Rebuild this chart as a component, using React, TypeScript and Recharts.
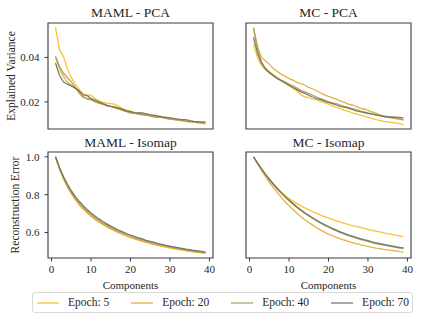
import React from 'react';
import { LineChart, Line, XAxis, YAxis, ReferenceArea } from 'recharts';

const FONT = '"Liberation Serif", "DejaVu Serif", "Noto Serif", serif';
const TEXT = '#262626';
const SPINE = '#3a3a3a';

const components = [1, 2, 3, 4, 5, 6, 7, 8, 9, 10, 11, 12, 13, 14, 15, 16, 17, 18, 19, 20, 21, 22, 23, 24, 25, 26, 27, 28, 29, 30, 31, 32, 33, 34, 35, 36, 37, 38, 39];
const epochs = ['Epoch: 5', 'Epoch: 20', 'Epoch: 40', 'Epoch: 70'];
const epochColors = ['#fbbc1c', '#e3a72e', '#a99a5e', '#68705f'];
const xTicks = [0, 10, 20, 30, 40];
const pcaTicks = [0.02, 0.04];
const isoTicks = [0.6, 0.8, 1.0];

const mamlPcaE5 = [0.0535, 0.0435, 0.0405, 0.035, 0.031, 0.028, 0.0255, 0.0235, 0.023, 0.023, 0.0215, 0.0205, 0.0198, 0.0194, 0.0192, 0.019, 0.018, 0.017, 0.0163, 0.0158, 0.0152, 0.015, 0.0147, 0.0143, 0.014, 0.0138, 0.0136, 0.0132, 0.0129, 0.0126, 0.0122, 0.012, 0.0118, 0.0116, 0.0112, 0.011, 0.0107, 0.0104, 0.01];
const mamlPcaE20 = [0.04, 0.035, 0.0315, 0.029, 0.0275, 0.0262, 0.0245, 0.0228, 0.0212, 0.021, 0.02, 0.0193, 0.019, 0.0183, 0.018, 0.0172, 0.0168, 0.0162, 0.0158, 0.0152, 0.015, 0.0146, 0.0142, 0.014, 0.014, 0.0136, 0.0132, 0.013, 0.0126, 0.0122, 0.012, 0.012, 0.0116, 0.0112, 0.011, 0.0109, 0.0106, 0.0105, 0.0103];
const mamlPcaE40 = [0.0405, 0.036, 0.033, 0.031, 0.029, 0.0265, 0.024, 0.022, 0.0215, 0.021, 0.0202, 0.0196, 0.019, 0.0182, 0.018, 0.0175, 0.017, 0.0162, 0.0156, 0.015, 0.0149, 0.0145, 0.0142, 0.014, 0.0136, 0.0132, 0.013, 0.013, 0.0126, 0.0122, 0.012, 0.0118, 0.0116, 0.0112, 0.0111, 0.011, 0.0109, 0.0107, 0.0106];
const mamlPcaE70 = [0.0375, 0.032, 0.029, 0.028, 0.0272, 0.0262, 0.025, 0.0232, 0.0228, 0.0215, 0.0208, 0.02, 0.0192, 0.0185, 0.018, 0.0178, 0.0172, 0.0166, 0.016, 0.0156, 0.0152, 0.015, 0.015, 0.0146, 0.0142, 0.014, 0.0136, 0.0132, 0.013, 0.0128, 0.0126, 0.0122, 0.012, 0.012, 0.0116, 0.0112, 0.0111, 0.011, 0.011];

const mcPcaE5 = [0.046, 0.04, 0.0365, 0.0345, 0.033, 0.0318, 0.0305, 0.0295, 0.0285, 0.0272, 0.0262, 0.025, 0.0232, 0.0222, 0.022, 0.0212, 0.021, 0.0202, 0.0195, 0.019, 0.0182, 0.0175, 0.017, 0.0162, 0.0158, 0.015, 0.0146, 0.014, 0.0136, 0.013, 0.0126, 0.012, 0.0117, 0.0112, 0.011, 0.0108, 0.0105, 0.0102, 0.0098];
const mcPcaE20 = [0.0535, 0.045, 0.04, 0.0385, 0.037, 0.035, 0.0338, 0.0325, 0.0315, 0.0305, 0.0298, 0.0288, 0.0282, 0.0275, 0.0265, 0.0258, 0.025, 0.024, 0.0232, 0.0225, 0.0218, 0.0212, 0.0205, 0.0198, 0.019, 0.0186, 0.018, 0.0172, 0.0168, 0.0162, 0.0155, 0.015, 0.0142, 0.0138, 0.0134, 0.013, 0.0127, 0.0124, 0.0121];
const mcPcaE40 = [0.053, 0.044, 0.038, 0.035, 0.0335, 0.0322, 0.031, 0.0298, 0.029, 0.028, 0.0272, 0.0262, 0.0252, 0.0245, 0.0238, 0.023, 0.0222, 0.0215, 0.0208, 0.02, 0.0196, 0.0192, 0.0186, 0.018, 0.0175, 0.017, 0.0165, 0.016, 0.0155, 0.015, 0.0146, 0.0142, 0.0138, 0.0134, 0.013, 0.0128, 0.0125, 0.0122, 0.0118];
const mcPcaE70 = [0.049, 0.042, 0.0375, 0.035, 0.0332, 0.0318, 0.0305, 0.0295, 0.0285, 0.0275, 0.0265, 0.0255, 0.0245, 0.0238, 0.023, 0.0222, 0.0215, 0.021, 0.0202, 0.0198, 0.0192, 0.0186, 0.018, 0.0176, 0.0172, 0.0166, 0.016, 0.0156, 0.0152, 0.0148, 0.0145, 0.0142, 0.0138, 0.0135, 0.0133, 0.0132, 0.0131, 0.013, 0.0128];

const mamlIsoE5 = [1.0, 0.936, 0.884, 0.841, 0.805, 0.774, 0.747, 0.724, 0.704, 0.686, 0.67, 0.655, 0.642, 0.63, 0.619, 0.608, 0.599, 0.59, 0.582, 0.574, 0.567, 0.56, 0.554, 0.548, 0.542, 0.537, 0.532, 0.527, 0.523, 0.519, 0.515, 0.511, 0.508, 0.504, 0.501, 0.498, 0.495, 0.493, 0.491];
const mamlIsoE20 = [1.0, 0.938, 0.886, 0.843, 0.807, 0.776, 0.749, 0.726, 0.706, 0.688, 0.672, 0.657, 0.644, 0.632, 0.62, 0.61, 0.6, 0.591, 0.583, 0.575, 0.568, 0.561, 0.555, 0.549, 0.543, 0.538, 0.533, 0.528, 0.524, 0.52, 0.516, 0.512, 0.508, 0.505, 0.502, 0.499, 0.496, 0.494, 0.492];
const mamlIsoE40 = [1.0, 0.941, 0.891, 0.85, 0.815, 0.784, 0.758, 0.735, 0.714, 0.696, 0.68, 0.665, 0.651, 0.639, 0.627, 0.617, 0.607, 0.598, 0.59, 0.582, 0.575, 0.568, 0.561, 0.555, 0.549, 0.544, 0.539, 0.534, 0.529, 0.525, 0.521, 0.517, 0.513, 0.51, 0.506, 0.503, 0.5, 0.497, 0.495];
const mamlIsoE70 = [1.0, 0.944, 0.896, 0.856, 0.821, 0.791, 0.765, 0.742, 0.722, 0.703, 0.687, 0.672, 0.658, 0.646, 0.634, 0.623, 0.613, 0.604, 0.595, 0.587, 0.58, 0.572, 0.566, 0.559, 0.553, 0.548, 0.542, 0.537, 0.532, 0.528, 0.524, 0.52, 0.516, 0.512, 0.509, 0.506, 0.503, 0.5, 0.497];

const mcIsoE5 = [1.0, 0.967, 0.936, 0.907, 0.88, 0.856, 0.834, 0.814, 0.796, 0.78, 0.766, 0.753, 0.741, 0.73, 0.72, 0.71, 0.701, 0.692, 0.684, 0.676, 0.669, 0.662, 0.655, 0.649, 0.643, 0.637, 0.632, 0.627, 0.622, 0.617, 0.612, 0.607, 0.603, 0.598, 0.594, 0.59, 0.586, 0.582, 0.578];
const mcIsoE20 = [1.0, 0.964, 0.93, 0.897, 0.867, 0.839, 0.812, 0.787, 0.763, 0.742, 0.722, 0.702, 0.684, 0.668, 0.653, 0.639, 0.625, 0.613, 0.602, 0.592, 0.583, 0.575, 0.567, 0.56, 0.553, 0.547, 0.541, 0.536, 0.531, 0.527, 0.522, 0.518, 0.515, 0.511, 0.508, 0.506, 0.503, 0.499, 0.497];
const mcIsoE40 = [1.0, 0.966, 0.935, 0.906, 0.879, 0.854, 0.83, 0.808, 0.787, 0.768, 0.75, 0.732, 0.716, 0.701, 0.687, 0.674, 0.661, 0.649, 0.638, 0.628, 0.618, 0.609, 0.6, 0.592, 0.584, 0.577, 0.57, 0.564, 0.558, 0.553, 0.547, 0.542, 0.538, 0.533, 0.529, 0.526, 0.522, 0.518, 0.515];
const mcIsoE70 = [1.0, 0.968, 0.938, 0.909, 0.883, 0.858, 0.834, 0.812, 0.791, 0.772, 0.754, 0.736, 0.72, 0.705, 0.691, 0.678, 0.665, 0.653, 0.642, 0.632, 0.622, 0.613, 0.604, 0.596, 0.588, 0.581, 0.574, 0.568, 0.562, 0.557, 0.551, 0.546, 0.542, 0.537, 0.533, 0.53, 0.526, 0.522, 0.519];

const build = (series: number[][]) =>
  components.map((c, i) => {
    const row: Record<string, number> = { c };
    series.forEach((s, k) => {
      row['s' + k] = s[i];
    });
    return row;
  });

const mamlPcaData = build([mamlPcaE5, mamlPcaE20, mamlPcaE40, mamlPcaE70]);
const mcPcaData = build([mcPcaE5, mcPcaE20, mcPcaE40, mcPcaE70]);
const mamlIsoData = build([mamlIsoE5, mamlIsoE20, mamlIsoE40, mamlIsoE70]);
const mcIsoData = build([mcIsoE5, mcIsoE20, mcIsoE40, mcIsoE70]);

const X_DOMAIN: [number, number] = [-0.9, 40.9];
const PLOT_W = 165;
const PLOT_H = 106;
const LEFT_SPACE = 48;
const PAD = 2;

type PanelProps = {
  x: number;
  y: number;
  data: Record<string, number>[];
  yDomain: [number, number];
  yTicks: number[];
  showY: boolean;
  showX: boolean;
  fmt?: (v: number) => string;
};

function Panel({ x, y, data, yDomain, yTicks, showY, showX, fmt }: PanelProps) {
  const bottomSpace = 30;
  const tickStyle = { fontSize: 11, fill: TEXT, fontFamily: FONT };
  return (
    <div style={{ position: 'absolute', left: x - LEFT_SPACE, top: y - PAD }}>
      <LineChart
        width={LEFT_SPACE + PLOT_W + PAD}
        height={PAD + PLOT_H + bottomSpace}
        data={data}
        margin={{ top: PAD, right: PAD, bottom: 0, left: 0 }}
      >
        <XAxis
          xAxisId="b"
          dataKey="c"
          type="number"
          domain={X_DOMAIN}
          ticks={xTicks}
          allowDataOverflow
          height={bottomSpace}
          axisLine={false}
          tickLine={showX ? { stroke: SPINE, strokeWidth: 1 } : false}
          tick={showX ? tickStyle : false}
          tickSize={3.5}
          tickMargin={4}
          interval={0}
        />
        <YAxis
          yAxisId="l"
          type="number"
          domain={yDomain}
          ticks={yTicks}
          allowDataOverflow
          width={LEFT_SPACE}
          axisLine={false}
          tickLine={showY ? { stroke: SPINE, strokeWidth: 1 } : false}
          tick={showY ? tickStyle : false}
          tickSize={3.5}
          tickMargin={5}
          tickFormatter={fmt}
          interval={0}
        />
        {epochs.map((name, k) => (
          <Line
            key={name}
            xAxisId="b"
            yAxisId="l"
            type="linear"
            dataKey={'s' + k}
            name={name}
            stroke={epochColors[k]}
            strokeOpacity={0.9}
            strokeWidth={1.3}
            dot={false}
            activeDot={false}
            isAnimationActive={false}
          />
        ))}
        <ReferenceArea
          xAxisId="b"
          yAxisId="l"
          x1={X_DOMAIN[0]}
          x2={X_DOMAIN[1]}
          y1={yDomain[0]}
          y2={yDomain[1]}
          fill="none"
          fillOpacity={0}
          stroke={SPINE}
          strokeWidth={1.1}
          ifOverflow="visible"
        />
      </LineChart>
    </div>
  );
}

function Text({ cx, cy, size, children, rotate }: { cx: number; cy: number; size: number; children: React.ReactNode; rotate?: boolean }) {
  return (
    <div
      style={{
        position: 'absolute',
        left: cx,
        top: cy,
        transform: `translate(-50%, -50%)${rotate ? ' rotate(-90deg)' : ''}`,
        fontFamily: FONT,
        fontSize: size,
        color: TEXT,
        lineHeight: 1,
        whiteSpace: 'nowrap',
      }}
    >
      {children}
    </div>
  );
}

export default function App() {
  const pcaDomain: [number, number] = [0.0078, 0.0555];
  const isoDomain: [number, number] = [0.4655, 1.0255];
  const f1 = (v: number) => v.toFixed(1);
  const f2 = (v: number) => v.toFixed(2);
  return (
    <div style={{ position: 'absolute', left: 0, top: 0, width: 423, height: 322, background: '#fff', overflow: 'hidden' }}>
      <Panel x={48} y={23} data={mamlPcaData} yDomain={pcaDomain} yTicks={pcaTicks} showY showX={false} fmt={f2} />
      <Panel x={246} y={23} data={mcPcaData} yDomain={pcaDomain} yTicks={pcaTicks} showY={false} showX={false} fmt={f2} />
      <Panel x={48} y={152} data={mamlIsoData} yDomain={isoDomain} yTicks={isoTicks} showY showX fmt={f1} />
      <Panel x={246} y={152} data={mcIsoData} yDomain={isoDomain} yTicks={isoTicks} showY={false} showX fmt={f1} />

      <Text cx={130.5} cy={13} size={13.5}>MAML - PCA</Text>
      <Text cx={328.5} cy={13} size={13.5}>MC - PCA</Text>
      <Text cx={130.5} cy={142.5} size={13.5}>MAML - Isomap</Text>
      <Text cx={328.5} cy={142.5} size={13.5}>MC - Isomap</Text>
      <Text cx={12} cy={76} size={11.5} rotate>Explained Variance</Text>
      <Text cx={16} cy={205} size={11.5} rotate>Reconstruction Error</Text>
      <Text cx={130.5} cy={284.5} size={11}>Components</Text>
      <Text cx={328.5} cy={284.5} size={11}>Components</Text>

      <div
        style={{
          position: 'absolute',
          left: 32,
          top: 292,
          width: 381,
          height: 21,
          boxSizing: 'border-box',
          border: '1px solid #d9d9d9',
          borderRadius: 3,
          display: 'flex',
          alignItems: 'center',
          paddingLeft: 4,
          fontFamily: FONT,
          fontSize: 11.5,
          color: TEXT,
          whiteSpace: 'nowrap',
        }}
      >
        {epochs.map((name, k) => (
          <div key={name} style={{ display: 'flex', alignItems: 'center', marginRight: 22, flexShrink: 0 }}>
            <svg width={22} height={8} style={{ marginRight: 9, flexShrink: 0 }}>
              <line x1={0} y1={4} x2={22} y2={4} stroke={epochColors[k]} strokeOpacity={0.75} strokeWidth={1.6} />
            </svg>
            <span style={{ lineHeight: 1, whiteSpace: 'nowrap' }}>{name}</span>
          </div>
        ))}
      </div>
    </div>
  );
}
